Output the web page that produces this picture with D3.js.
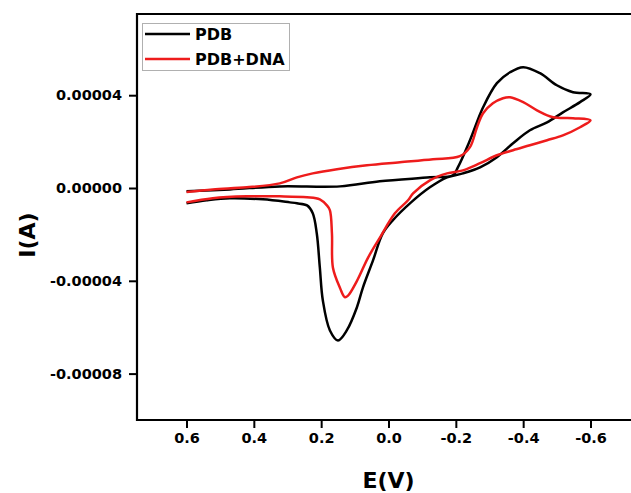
<!DOCTYPE html>
<html>
<head>
<meta charset="utf-8">
<script src="https://cdn.jsdelivr.net/npm/d3@7"></script>
<style>
  body { margin: 0; background: #fff; }
  svg { font-family: "DejaVu Sans", "Liberation Sans", Arial, sans-serif; font-weight: bold; }
</style>
</head>
<body>
<div id="chart"></div>
<script>
// potential (V) and current (uA), in scan order
var pdbE = [0.60, 0.471, 0.323, 0.144, 0.026, -0.123, -0.191, -0.206, -0.242, -0.281, -0.322, -0.361, -0.400, -0.450, -0.500, -0.548, -0.60,
            -0.569, -0.518, -0.471, -0.420, -0.370, -0.322, -0.272, -0.221, -0.174, -0.123, -0.067, -0.013, 0.017, 0.046, 0.076, 0.094, 0.124, 0.150,
            0.174, 0.195, 0.204, 0.213, 0.225, 0.242, 0.272, 0.293, 0.373, 0.471, 0.540, 0.60];
var pdbI = [-1.4, -0.6, 0.7, 0.7, 2.9, 4.6, 5.5, 8.9, 20.6, 34.8, 45.2, 49.9, 52.1, 49.5, 44.3, 41.3, 40.4,
            37.0, 32.6, 28.3, 24.9, 19.3, 13.3, 8.9, 6.3, 4.6, 0.3, -6.2, -13.9, -19.6, -31.2, -42.9, -51.5, -61.4, -65.7,
            -61.4, -48.5, -34.2, -19.6, -10.9, -7.5, -6.6, -6.2, -4.9, -4.4, -5.3, -6.6];

var dnaE = [0.60, 0.522, 0.421, 0.323, 0.272, 0.225, 0.153, 0.064, -0.034, -0.132, -0.212, -0.242, -0.263, -0.281, -0.310, -0.340, -0.361, -0.400, -0.441, -0.489, -0.548, -0.60,
            -0.569, -0.518, -0.471, -0.420, -0.370, -0.322, -0.272, -0.221, -0.174, -0.123, -0.073, -0.058, -0.019, 0.026, 0.061, 0.094, 0.121, 0.130,
            0.144, 0.165, 0.168, 0.174, 0.183, 0.204, 0.242, 0.323, 0.421, 0.522, 0.60];
var dnaI = [-1.7, -0.6, 0.3, 2.0, 4.6, 6.3, 8.1, 9.8, 11.1, 12.4, 13.7, 17.6, 26.2, 32.2, 36.5, 38.7, 39.1, 37.0, 33.5, 30.5, 30.1, 29.2,
            26.2, 22.7, 20.6, 18.4, 16.3, 14.1, 10.7, 7.6, 6.3, 3.3, -2.3, -5.3, -10.9, -21.5, -30.1, -40.1, -46.5, -47.0,
            -43.1, -34.4, -19.6, -9.6, -7.5, -4.9, -4.0, -3.6, -3.6, -4.4, -6.2];

var xTicks = [0.6, 0.4, 0.2, 0.0, -0.2, -0.4, -0.6];
var yTicks = [-0.00008, -0.00004, 0.00000, 0.00004];
var seriesNames = ["PDB", "PDB+DNA"];
var seriesColors = ["#000000", "#ee1c1c"];

var width = 631, height = 493;
var margin = {top: 14, left: 137, bottom: 420};

var svg = d3.select("#chart").append("svg")
    .attr("width", width)
    .attr("height", height);

var x = d3.scaleLinear().domain([0.75, -0.75]).range([margin.left - 1, 641]);
var y = d3.scaleLinear().domain([-0.0001, 0.000075]).range([margin.bottom, margin.top]);

// axes
var xAxis = svg.append("g")
    .attr("transform", "translate(0," + margin.bottom + ")")
    .call(d3.axisBottom(x).tickValues(xTicks).tickSize(8).tickSizeOuter(0)
        .tickFormat(function(d) { return d.toFixed(1); }));
var yAxis = svg.append("g")
    .attr("transform", "translate(" + margin.left + ",0)")
    .call(d3.axisLeft(y).tickValues(yTicks).tickSize(8).tickSizeOuter(0)
        .tickFormat(function(d) { return d.toFixed(5); }));

[xAxis, yAxis].forEach(function(a) {
    a.select(".domain").remove();
    a.selectAll("line").attr("stroke", "#000").attr("stroke-width", 2);
    a.selectAll("text").attr("fill", "#000")
        .style("font-size", "14.5px").style("font-weight", "bold")
        .style("font-family", "'DejaVu Sans', Arial, sans-serif");
});
xAxis.selectAll("text").attr("y", 23).attr("dy", 0);
yAxis.selectAll("text").attr("x", -15);

// frame (right side runs off the picture)
svg.append("path")
    .attr("d", "M" + 700 + "," + margin.top + "H" + margin.left + "V" + margin.bottom + "H" + 700)
    .attr("fill", "none")
    .attr("stroke", "#000")
    .attr("stroke-width", 2.2);

// curves
var line = d3.line()
    .x(function(d) { return x(d[0]); })
    .y(function(d) { return y(d[1] * 1e-6); })
    .curve(d3.curveCatmullRom.alpha(0.5));

var series = [d3.zip(pdbE, pdbI), d3.zip(dnaE, dnaI)];
series.forEach(function(s, i) {
    svg.append("path")
        .datum(s)
        .attr("d", line)
        .attr("fill", "none")
        .attr("stroke", seriesColors[i])
        .attr("stroke-width", 2.5)
        .attr("stroke-linejoin", "round");
});

// legend
var legend = svg.append("g");
legend.append("rect")
    .attr("x", 142.5).attr("y", 23.5)
    .attr("width", 147).attr("height", 47)
    .attr("fill", "#fff")
    .attr("stroke", "#b0b0b0");
seriesNames.forEach(function(name, i) {
    var ly = 34 + i * 25;
    legend.append("line")
        .attr("x1", 145).attr("x2", 190)
        .attr("y1", ly).attr("y2", ly)
        .attr("stroke", seriesColors[i])
        .attr("stroke-width", 2.5);
    legend.append("text")
        .attr("x", 195).attr("y", ly + 6)
        .style("font-size", "16px")
        .text(name);
});

// axis titles
svg.append("text")
    .attr("x", x(0))
    .attr("y", 488)
    .attr("text-anchor", "middle")
    .style("font-size", "22px")
    .text("E(V)");

svg.append("text")
    .attr("transform", "translate(35,235) rotate(-90)")
    .attr("text-anchor", "middle")
    .style("font-size", "22px")
    .text("I(A)");
</script>
</body>
</html>
